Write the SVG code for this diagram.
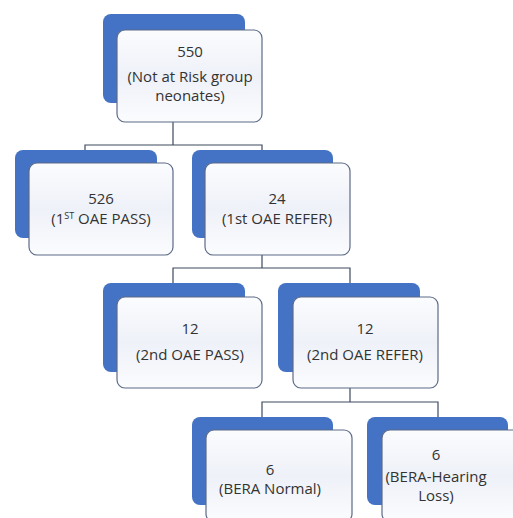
<svg xmlns="http://www.w3.org/2000/svg" width="513" height="518" viewBox="0 0 513 518">
<defs>
<linearGradient id="fg" x1="0" y1="0" x2="0" y2="1">
<stop offset="0" stop-color="#fbfcfe"/>
<stop offset="0.5" stop-color="#eef1f8"/>
<stop offset="1" stop-color="#fbfcfe"/>
</linearGradient>
</defs>
<style>
.back{fill:#4472c4}
.front{fill:url(#fg);stroke:#5d6b88;stroke-width:1.2}
.conn{fill:none;stroke:#3f4a5f;stroke-width:1.2}
text{font-family:"Open Sans","Liberation Sans",sans-serif;font-size:15px;fill:#333;text-anchor:middle}
</style>
<rect width="513" height="518" fill="#ffffff"/>
<g id="connectors">
<path class="conn" d="M173 122V145M85 150V145H262V150"/>
<path class="conn" d="M262 255V268M173 283V268H350V283"/>
<path class="conn" d="M350 388V402M262 417V402H438V417"/>
</g>
<g id="n550">
<rect class="back" x="103" y="14" width="142" height="89" rx="8"/>
<rect class="front" x="117" y="30" width="145" height="92" rx="8"/>
<text x="190" y="57">550</text>
<text x="190" y="82">(Not at Risk group</text>
<text x="190" y="101">neonates)</text>
</g>
<g id="n526">
<rect class="back" x="15" y="150" width="142" height="88" rx="8"/>
<rect class="front" x="29" y="163" width="144" height="92" rx="8"/>
<text x="101" y="204">526</text>
<text x="101" y="224">(1<tspan font-size="9" dy="-5">ST</tspan><tspan dy="5"> OAE PASS)</tspan></text>
</g>
<g id="n24">
<rect class="back" x="192" y="150" width="141" height="88" rx="8"/>
<rect class="front" x="205" y="163" width="145" height="92" rx="8"/>
<text x="277" y="204">24</text>
<text x="277" y="224">(1st OAE REFER)</text>
</g>
<g id="n12pass">
<rect class="back" x="103" y="283" width="142" height="89" rx="8"/>
<rect class="front" x="117" y="297" width="145" height="91" rx="8"/>
<text x="190" y="334">12</text>
<text x="190" y="360">(2nd OAE PASS)</text>
</g>
<g id="n12refer">
<rect class="back" x="278" y="283" width="142" height="89" rx="8"/>
<rect class="front" x="293" y="297" width="145" height="91" rx="8"/>
<text x="365" y="334">12</text>
<text x="365" y="360">(2nd OAE REFER)</text>
</g>
<g id="n6normal">
<rect class="back" x="192" y="417" width="141" height="88" rx="8"/>
<rect class="front" x="206" y="430" width="146" height="92" rx="8"/>
<text x="270" y="475">6</text>
<text x="270" y="494">(BERA Normal)</text>
</g>
<g id="n6loss">
<rect class="back" x="367" y="417" width="141" height="88" rx="8"/>
<rect class="front" x="382" y="430" width="146" height="92" rx="8"/>
<text x="436" y="460">6</text>
<text x="436" y="482">(BERA-Hearing</text>
<text x="436" y="501">Loss)</text>
</g>
</svg>
